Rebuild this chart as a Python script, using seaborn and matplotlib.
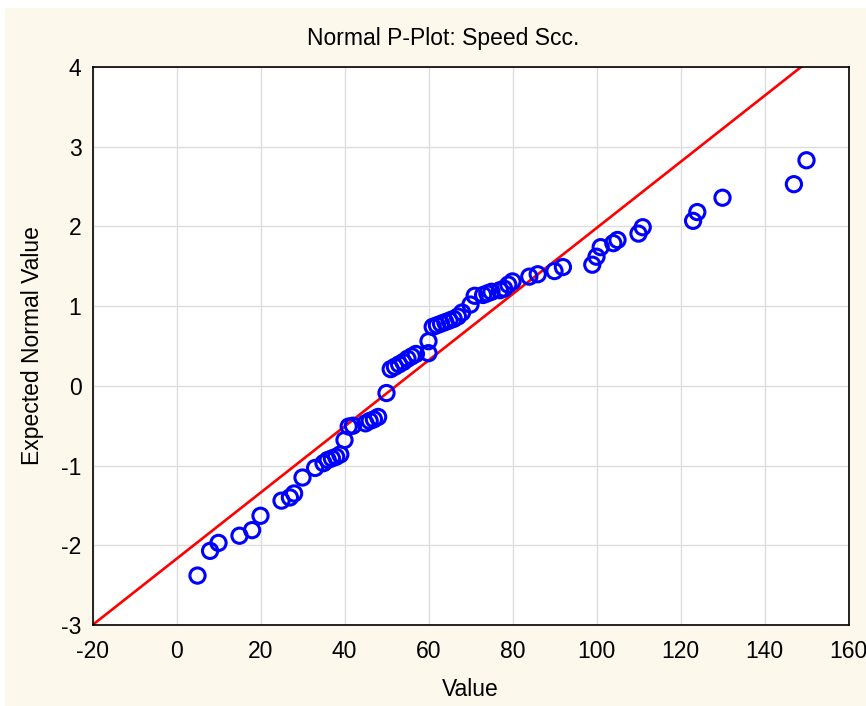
import matplotlib
matplotlib.use("Agg")
import matplotlib.pyplot as plt
from matplotlib.patches import Rectangle
import numpy as np
import pandas as pd
import seaborn as sns

values = [5, 8, 10, 15, 18, 20, 25, 27, 28, 30, 33, 35, 36, 37, 38, 39, 40, 41, 42,
          45, 46, 47, 48, 50, 51, 52, 53, 54, 55, 56, 57, 60, 60, 61, 62, 63, 64, 65,
          66, 67, 68, 70, 71, 73, 74, 75, 77, 78, 79, 80, 84, 86, 90, 92, 99, 100,
          101, 104, 105, 110, 111, 123, 124, 130, 147, 150]
expected = [-2.38, -2.07, -1.97, -1.88, -1.81, -1.63, -1.44, -1.40, -1.35, -1.15, -1.03,
            -0.97, -0.93, -0.91, -0.89, -0.86, -0.68, -0.51, -0.50, -0.47, -0.44, -0.42,
            -0.39, -0.09, 0.21, 0.24, 0.27, 0.30, 0.34, 0.37, 0.40, 0.41, 0.56, 0.74,
            0.76, 0.78, 0.80, 0.82, 0.84, 0.87, 0.92, 1.02, 1.13, 1.14, 1.16, 1.18, 1.20,
            1.22, 1.27, 1.31, 1.37, 1.40, 1.44, 1.49, 1.52, 1.62, 1.74, 1.79, 1.83, 1.91,
            1.99, 2.07, 2.18, 2.36, 2.53, 2.83]

# Reference normal line parameters
line_mean = 52.3
line_sd = 24.1

x_ticks = [-20, 0, 20, 40, 60, 80, 100, 120, 140, 160]
y_ticks = [-3, -2, -1, 0, 1, 2, 3, 4]

title = "Normal P-Plot: Speed Scc."
x_label = "Value"
y_label = "Expected Normal Value"

sns.set_style("white")
plt.rcParams['font.family'] = ['Liberation Sans', 'DejaVu Sans']
plt.rcParams['text.color'] = 'black'
plt.rcParams['axes.labelcolor'] = 'black'

FS = 16.5

fig = plt.figure(figsize=(8.66, 7.06), dpi=100, facecolor="white")
fig.patches.append(Rectangle((5 / 866, 0), 1, 1 - 8 / 706, transform=fig.transFigure,
                             facecolor="#FDF8EC", edgecolor="none", zorder=-10))

ax = fig.add_axes([92.5 / 866, 1 - 625 / 706, (848.5 - 92.5) / 866, (625 - 67) / 706])
ax.set_facecolor("white")

df = pd.DataFrame({"Value": values, "Expected": expected})
line_x = np.array([x_ticks[0], x_ticks[-1]], dtype=float)
line_df = pd.DataFrame({"x": line_x, "y": (line_x - line_mean) / line_sd})

sns.lineplot(data=line_df, x="x", y="y", ax=ax, color="#FF0000", linewidth=1.9,
             zorder=2)
sns.scatterplot(data=df, x="Value", y="Expected", ax=ax, marker="o", s=120,
                facecolor="none", edgecolor="#0000FF", linewidth=2.2, zorder=3)

ax.set_xlim(-20, 160)
ax.set_ylim(-3, 4)
ax.set_xticks(x_ticks)
ax.set_yticks(y_ticks)
ax.set_xticklabels([str(t) for t in x_ticks])
ax.set_yticklabels([str(t) for t in y_ticks])
ax.tick_params(axis="both", length=0, labelsize=FS, colors="black")
ax.tick_params(axis="y", pad=8)
ax.tick_params(axis="x", pad=11)
ax.grid(True, color="#DDDDDD", linewidth=1.0)
ax.set_axisbelow(True)
for sp in ax.spines.values():
    sp.set_color("black")
    sp.set_linewidth(1.2)
    sp.set_visible(True)

ax.set_xlabel(x_label, fontsize=FS, color="black", va="center")
ax.set_ylabel(y_label, fontsize=FS, color="black", va="center")
ax.xaxis.set_label_coords(0.5, (625 - 690) / 558)
ax.yaxis.set_label_coords((33 - 92.5) / 756, 0.5)
fig.text(443 / 866, 1 - 38 / 706, title, ha="center", va="center", fontsize=FS,
         color="black")

fig.savefig("out.png", dpi=100, facecolor=fig.get_facecolor())
